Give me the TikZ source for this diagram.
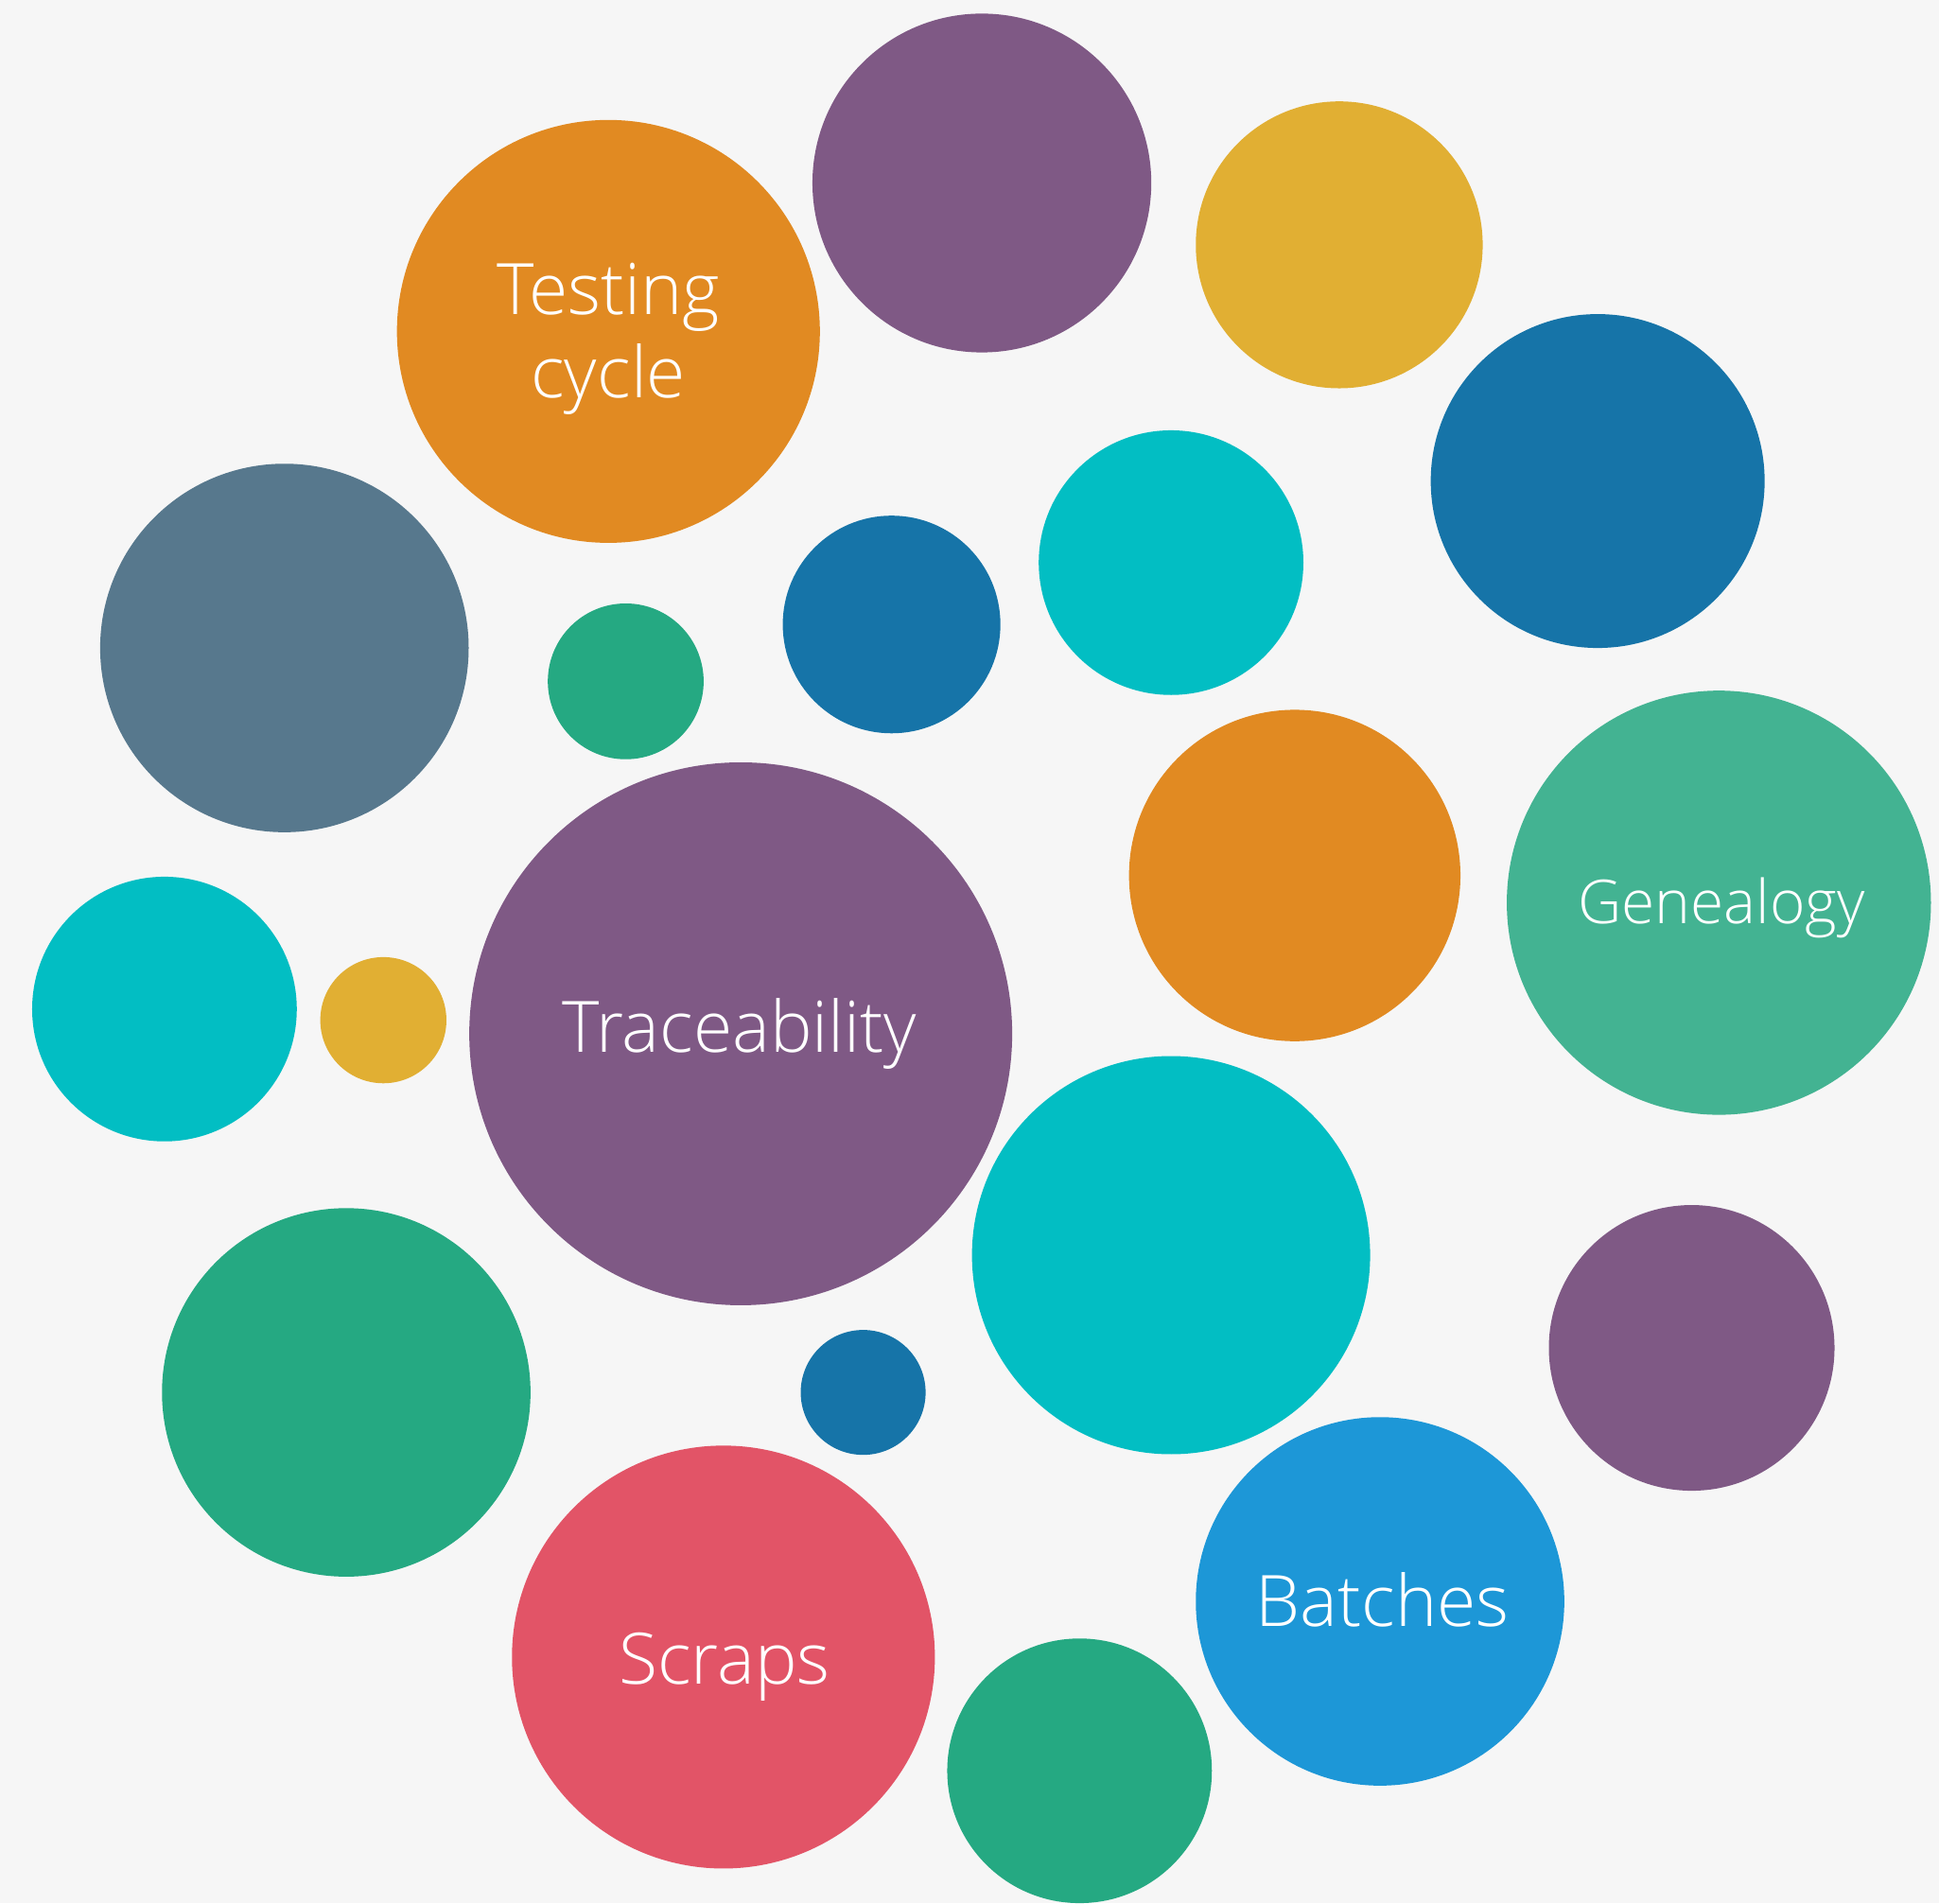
\documentclass[tikz,border=0pt]{standalone}
\usepackage{fontspec}
\setmainfont{Open Sans}[UprightFont=* Light]
\definecolor{bg}{HTML}{F6F6F6}
\definecolor{cpurple}{HTML}{7F5985}
\definecolor{corange}{HTML}{E18A22}
\definecolor{cyellow}{HTML}{E1AF33}
\definecolor{cdblue}{HTML}{1674A8}
\definecolor{ccyan}{HTML}{02BEC3}
\definecolor{cgreen}{HTML}{25A982}
\definecolor{cslate}{HTML}{57788D}
\definecolor{cteal}{HTML}{43B392}
\definecolor{cred}{HTML}{E25467}
\definecolor{clblue}{HTML}{1D97D7}
\tikzset{
  bubble/.style={circle, inner sep=0pt, outer sep=0pt, minimum size=#1*0.025cm},
  lbl/.style={text=white, anchor=base, inner sep=0pt, font=\fontsize{20.4pt}{25pt}\selectfont},
  slbl/.style={text=white, anchor=base, inner sep=0pt, font=\fontsize{17.4pt}{22pt}\selectfont}
}
\begin{document}
\begin{tikzpicture}[x=0.0125cm,y=-0.0125cm]
\useasboundingbox (0,0) rectangle (1568,1539);
\clip (0,0) rectangle (1568,1539);
\fill[bg] (0,0) rectangle (1568,1539);
\node[bubble=137, fill=cpurple] (c1) at (794,148) {};
\node[bubble=171, fill=corange] (c2) at (492,268) {};
\node[bubble=116, fill=cyellow] (c3) at (1083,198) {};
\node[bubble=135, fill=cdblue] (c4) at (1292,389) {};
\node[bubble=107, fill=ccyan] (c5) at (947,455) {};
\node[bubble=88, fill=cdblue] (c6) at (721,505) {};
\node[bubble=63, fill=cgreen] (c7) at (506,551) {};
\node[bubble=149, fill=cslate] (c8) at (230,524) {};
\node[bubble=134, fill=corange] (c9) at (1047,708) {};
\node[bubble=171.5, fill=cteal] (c10) at (1390,730) {};
\node[bubble=107, fill=ccyan] (c11) at (133,816) {};
\node[bubble=51, fill=cyellow] (c12) at (310,825) {};
\node[bubble=219.5, fill=cpurple] (c13) at (599,836) {};
\node[bubble=161, fill=ccyan] (c14) at (947,1015) {};
\node[bubble=149, fill=cgreen] (c15) at (280,1126) {};
\node[bubble=115.5, fill=cpurple] (c16) at (1368,1090) {};
\node[bubble=50.5, fill=cdblue] (c17) at (698,1126) {};
\node[bubble=171, fill=cred] (c18) at (585,1340) {};
\node[bubble=149, fill=clblue] (c19) at (1116,1295) {};
\node[bubble=107, fill=cgreen] (c20) at (873,1432) {};
\node[lbl] (t1) at (492,254) {Testing};
\node[lbl] (t2) at (492,322) {cycle};
\node[lbl] (t3) at (598,851) {Traceability};
\node[slbl] (t4) at (1392,747) {Genealogy};
\node[lbl] (t5) at (1118,1315) {Batches};
\node[lbl] (t6) at (586,1362) {Scraps};
\end{tikzpicture}
\end{document}
